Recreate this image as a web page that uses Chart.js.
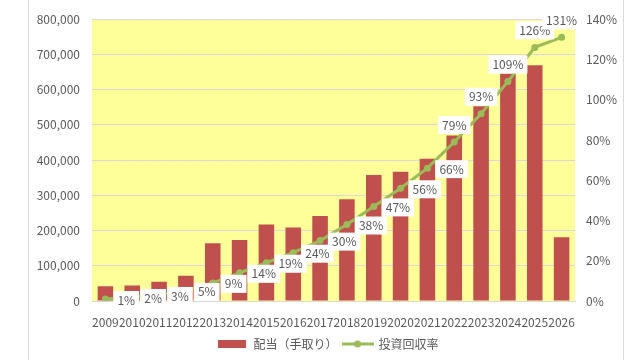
<!DOCTYPE html>
<html>
<head>
<meta charset="utf-8">
<script src="https://cdn.jsdelivr.net/npm/chart.js@4.4.1/dist/chart.umd.min.js"></script>
<style>
  html, body { margin: 0; padding: 0; background: #fff; }
  #wrap { width: 640px; height: 360px; position: relative; }
</style>
</head>
<body>
<div id="wrap"><canvas id="chart"></canvas></div>
<script>
// 年(カテゴリ)
var years = ['2009', '2010', '2011', '2012', '2013', '2014', '2015', '2016', '2017',
             '2018', '2019', '2020', '2021', '2022', '2023', '2024', '2025', '2026'];
// 配当(手取り) 円
var dividends = [42000, 44000, 55000, 72000, 164000, 173000, 217000, 209000, 241000,
                 289000, 358000, 367000, 404000, 470000, 553000, 646000, 669000, 181000];
// 投資回収率 %
var recoveryRate = [1, 2, 3, 5, 9, 14, 19, 24, 30, 38, 47, 56, 66, 79, 93, 109, 126, 131];

var barColor = '#C0504D';
var lineColor = '#9BBB59';
var textColor = '#595959';

Chart.defaults.font.family = "'Noto Sans CJK JP', 'Liberation Sans', sans-serif";
Chart.defaults.font.size = 12;
Chart.defaults.color = textColor;

// 凡例アイコン
function makeIcon(w, h, draw) {
    var c = document.createElement('canvas');
    c.width = w; c.height = h;
    draw(c.getContext('2d'));
    return c;
}
var barIcon = makeIcon(28, 8, function (g) {
    g.fillStyle = barColor;
    g.fillRect(0, 0, 28, 8);
});
var lineIcon = makeIcon(32, 10, function (g) {
    g.strokeStyle = lineColor;
    g.lineWidth = 3;
    g.beginPath(); g.moveTo(0, 5); g.lineTo(32, 5); g.stroke();
    g.fillStyle = lineColor;
    g.beginPath(); g.arc(16, 5, 3.5, 0, Math.PI * 2); g.fill();
});

// 背景と枠
var backgroundPlugin = {
    id: 'plotBg',
    beforeDraw: function (chart) {
        var a = chart.chartArea, c = chart.ctx;
        c.save();
        c.fillStyle = '#FFFF99';
        c.fillRect(a.left, a.top, a.right - a.left, a.bottom - a.top);
        c.strokeStyle = '#d9d9d9';
        c.lineWidth = 1;
        c.beginPath();
        c.moveTo(28.5, 0); c.lineTo(28.5, chart.height);
        c.moveTo(623.5, 0); c.lineTo(623.5, chart.height);
        c.stroke();
        c.restore();
    }
};

// 回収率のラベル(白い箱)
var rateLabelPlugin = {
    id: 'rateLabels',
    afterDatasetsDraw: function (chart) {
        var meta = chart.getDatasetMeta(1), c = chart.ctx;
        c.save();
        c.font = "12px 'Noto Sans CJK JP', 'Liberation Sans', sans-serif";
        c.textBaseline = 'middle';
        meta.data.forEach(function (pt, i) {
            var txt = recoveryRate[i] + '%';
            var w = c.measureText(txt).width;
            var x, y;
            if (i >= 13) {           // 上に表示
                x = pt.x - w / 2;
                y = pt.y - 17;
            } else {                 // 右に表示
                x = pt.x + 12;
                y = pt.y + 1;
            }
            c.fillStyle = '#ffffff';
            c.fillRect(x - 4, y - 9, w + 8, 18);
            c.fillStyle = textColor;
            c.textAlign = 'left';
            c.fillText(txt, x, y);
        });
        c.restore();
    }
};

new Chart(document.getElementById('chart'), {
    type: 'bar',
    data: {
        labels: years,
        datasets: [
            {
                label: '配当（手取り）',
                data: dividends,
                backgroundColor: barColor,
                categoryPercentage: 1.0,
                barPercentage: 0.58,
                yAxisID: 'y',
                order: 1
            },
            {
                type: 'line',
                label: '投資回収率',
                data: recoveryRate,
                borderColor: lineColor,
                backgroundColor: lineColor,
                borderWidth: 3,
                pointRadius: 3.5,
                pointBackgroundColor: lineColor,
                pointBorderWidth: 0,
                tension: 0,
                yAxisID: 'y1',
                order: 0
            }
        ]
    },
    options: {
        responsive: true,
        maintainAspectRatio: false,
        animation: false,
        layout: { padding: { top: 13, bottom: 0, left: 16 } },
        plugins: {
            tooltip: { enabled: false },
            legend: {
                position: 'bottom',
                labels: {
                    usePointStyle: true,
                    pointStyleWidth: 30,
                    padding: 5,
                    color: textColor,
                    generateLabels: function () {
                        return [
                            { text: '配当（手取り）', pointStyle: barIcon, fillStyle: barColor, strokeStyle: barColor, lineWidth: 0, fontColor: textColor, datasetIndex: 0 },
                            { text: '投資回収率', pointStyle: lineIcon, fillStyle: lineColor, strokeStyle: lineColor, lineWidth: 0, fontColor: textColor, datasetIndex: 1 }
                        ];
                    }
                }
            }
        },
        scales: {
            x: {
                grid: { display: false },
                border: { color: '#d9d9d9' },
                ticks: { autoSkip: false, maxRotation: 0, minRotation: 0, padding: 6, color: textColor },
                afterFit: function (s) { s.height = 32; }
            },
            y: {
                position: 'left',
                min: 0,
                max: 800000,
                ticks: {
                    stepSize: 100000,
                    padding: 12,
                    color: textColor,
                    callback: function (v) { return v.toLocaleString('en-US'); }
                },
                grid: { color: '#d9d9d9', drawTicks: false },
                border: { display: false },
                afterFit: function (s) { s.width = 76; }
            },
            y1: {
                position: 'right',
                min: 0,
                max: 140,
                ticks: {
                    stepSize: 20,
                    padding: 11,
                    color: textColor,
                    callback: function (v) { return v + '%'; }
                },
                grid: { display: false, drawTicks: false },
                border: { display: false },
                afterFit: function (s) { s.width = 65; }
            }
        }
    },
    plugins: [backgroundPlugin, rateLabelPlugin]
});
</script>
</body>
</html>
